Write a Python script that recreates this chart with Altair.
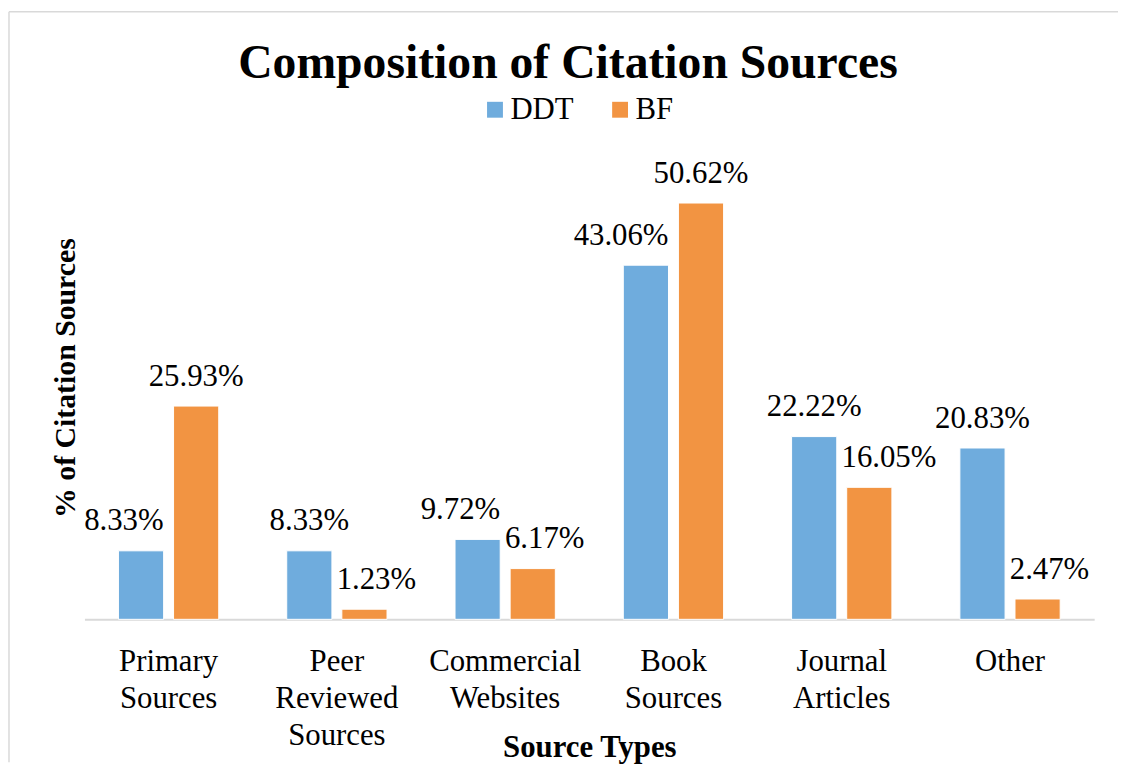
import altair as alt
import pandas as pd

categories = ["Primary Sources", "Peer Reviewed Sources", "Commercial Websites",
              "Book Sources", "Journal Articles", "Other"]
series_names = ["DDT", "BF"]
ddt_values = [8.33, 8.33, 9.72, 43.06, 22.22, 20.83]
bf_values = [25.93, 1.23, 6.17, 50.62, 16.05, 2.47]
series_colors = ["#6FACDD", "#F29442"]

rows = []
for c, d, b in zip(categories, ddt_values, bf_values):
    rows.append({"category": c, "series": "DDT", "value": d})
    rows.append({"category": c, "series": "BF", "value": b})
df = pd.DataFrame(rows)

# Excel nudged colliding data labels: DDT labels right-aligned, BF labels left-aligned
ddt_nudged = ["Primary Sources", "Commercial Websites", "Book Sources"]
bf_nudged = ["Peer Reviewed Sources", "Commercial Websites", "Journal Articles", "Other"]


def place(r):
    if r["series"] == "DDT" and r["category"] in ddt_nudged:
        return "right"
    if r["series"] == "BF" and r["category"] in bf_nudged:
        return "left"
    return "center"


df["place"] = df.apply(place, axis=1)

FONT = "Liberation Serif"
W, H = 1017, 497

x_scale = alt.Scale(paddingInner=0.404, paddingOuter=0.202)
xo_scale = alt.Scale(paddingInner=0.18, paddingOuter=0)
y_scale = alt.Scale(domain=[0, 60], nice=False, zero=True)

x_axis = alt.Axis(
    title="Source Types", titleFont=FONT, titleFontSize=31, titleFontWeight="bold",
    titleColor="black", titleX=508.5, titleY=138, titleAlign="center",
    titleBaseline="alphabetic",
    labelFont=FONT, labelFontSize=31, labelColor="black", labelAngle=0,
    labelExpr="split(datum.label, ' ')", labelLineHeight=37, labelPadding=28,
    labelBaseline="top", labelLimit=400, labelOverlap=False, labelBound=False,
    ticks=False, tickSize=0, domainColor="#D9D9D9", domainWidth=2, grid=False,
)
y_axis = alt.Axis(
    title="% of Citation Sources", titleFont=FONT, titleFontSize=30,
    titleFontWeight="bold", titleColor="black", titleAngle=270,
    titleX=-10, titleY=253.5, titleAlign="center", titleBaseline="alphabetic",
    labels=False, ticks=False, domain=False, grid=False,
)

x_enc = alt.X("category:N", sort=categories, scale=x_scale, axis=x_axis)
xo_enc = alt.XOffset("series:N", sort=series_names, scale=xo_scale)
y_enc = alt.Y("value:Q", scale=y_scale, axis=y_axis)

base = alt.Chart(df)

bars = base.mark_bar(stroke="white", strokeWidth=1).encode(
    x=x_enc,
    xOffset=xo_enc,
    y=y_enc,
    color=alt.Color(
        "series:N", sort=series_names,
        scale=alt.Scale(domain=series_names, range=series_colors),
        legend=alt.Legend(
            title=None, orient="none", legendX=398, legendY=-32,
            direction="horizontal", symbolType="square", symbolSize=256,
            symbolStrokeWidth=0, labelFont=FONT, labelFontSize=31,
            labelColor="black", labelOffset=0, columnPadding=31, padding=0,
        ),
    ),
)


def labels(where, align, dx):
    return base.transform_filter(alt.datum.place == where).transform_calculate(
        label="format(datum.value, '.2f') + '%'"
    ).mark_text(
        align=align, baseline="alphabetic", dx=dx, dy=-20.5,
        font=FONT, fontSize=31, color="black",
    ).encode(
        x=x_enc,
        xOffset=xo_enc,
        y=y_enc,
        text="label:N",
    )


# faint frame of the chart area (left and top edges)
frame_df = pd.DataFrame({"edge": ["left"]})
frame_left = alt.Chart(frame_df).mark_rule(color="#D9D9D9", strokeWidth=1.5).encode(
    x=alt.value(-76), y=alt.value(-115), y2=alt.value(H + 144)
)
frame_top = alt.Chart(frame_df).mark_rule(color="#D9D9D9", strokeWidth=1.5).encode(
    x=alt.value(-76), x2=alt.value(W + 24), y=alt.value(-115)
)

chart = alt.layer(
    frame_left,
    frame_top,
    bars,
    labels("center", "center", 0),
    labels("right", "right", 22.75),
    labels("left", "left", -28),
).properties(
    width=W, height=H,
    title=alt.TitleParams(
        text="Composition of Citation Sources", font=FONT, fontSize=48,
        fontWeight="bold", color="black", anchor="middle", frame="group",
        dx=-21.5, dy=82,
    ),
    padding={"left": 77, "top": 116, "right": 24, "bottom": 144},
    autosize=alt.AutoSizeParams(type="none"),
    background="white",
).configure_view(stroke=None)

chart.save("out.html", embed_options={"renderer": "svg", "actions": False})
